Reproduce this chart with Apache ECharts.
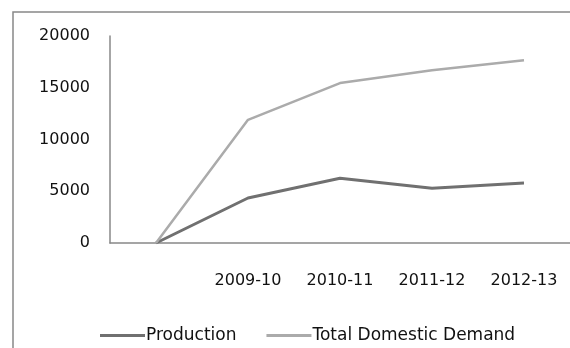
<!DOCTYPE html>
<html>
<head>
    <meta charset="utf-8" />
    <style type="text/css">
        body, html, #main {
            margin: 0;
            width: 100%;
            height: 100%;
            overflow: hidden;
            background: #fff;
        }
    </style>
    <script type="text/javascript" src="https://cdn.jsdelivr.net/npm/echarts@6/dist/echarts.min.js"></script>
</head>
<body>
    <div id="main"></div>
    <script type="text/javascript">
        // data
        var years = ['', '2009-10', '2010-11', '2011-12', '2012-13'];
        var production = [0, 4350, 6250, 5300, 5800];
        var demand = [0, 11900, 15450, 16700, 17650];
        var yTicks = [0, 5000, 10000, 15000, 20000];

        var font = 'DejaVu Sans';
        var chart = echarts.init(document.getElementById('main'));

        var option = {
            animation: false,
            graphic: [{
                type: 'rect',
                shape: { x: 13, y: 12, width: 800, height: 600 },
                style: { fill: 'none', stroke: '#888', lineWidth: 1.5 }
            }],
            grid: { left: 110, right: 0, top: 36, bottom: 105 },
            legend: {
                left: 95,
                top: 322,
                itemWidth: 45,
                itemHeight: 3,
                itemGap: 30,
                icon: 'rect',
                textStyle: { fontFamily: font, fontSize: 17, color: '#111', padding: [0, 0, 0, -4] },
                data: ['Production', 'Total Domestic Demand']
            },
            xAxis: {
                type: 'category',
                data: years,
                boundaryGap: true,
                axisLine: { lineStyle: { color: '#888', width: 1.5 } },
                axisTick: { show: false },
                axisLabel: { fontFamily: font, fontSize: 16, color: '#111', margin: 30 }
            },
            yAxis: {
                type: 'value',
                min: yTicks[0],
                max: yTicks[yTicks.length - 1],
                interval: yTicks[1] - yTicks[0],
                splitLine: { show: false },
                axisLine: { show: true, lineStyle: { color: '#888', width: 1.5 } },
                axisTick: { show: false },
                axisLabel: {
                    fontFamily: font, fontSize: 16, color: '#111', margin: 20,
                    formatter: function (v) { return String(v); }
                }
            },
            series: [{
                name: 'Production',
                type: 'line',
                data: production,
                symbol: 'none',
                itemStyle: { color: '#707070' },
                lineStyle: { color: '#707070', width: 3 }
            }, {
                name: 'Total Domestic Demand',
                type: 'line',
                data: demand,
                symbol: 'none',
                itemStyle: { color: '#ababab' },
                lineStyle: { color: '#ababab', width: 2.5 }
            }]
        };

        chart.setOption(option);
    </script>
</body>
</html>
